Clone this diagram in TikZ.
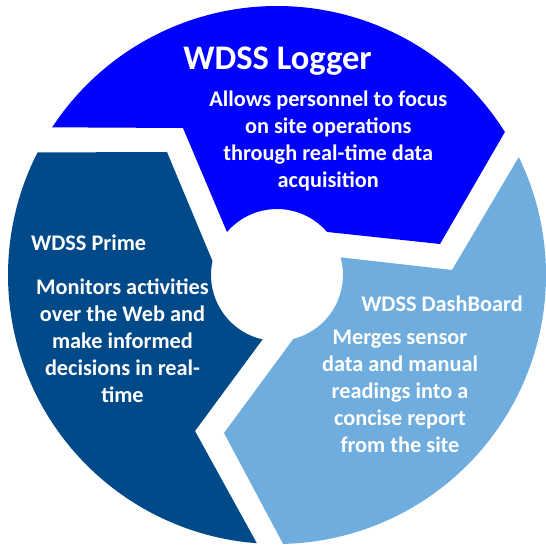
\documentclass[tikz,border=0pt]{standalone}
\usepackage{fontspec}
\setmainfont{Carlito}
\definecolor{loggerblue}{RGB}{0,0,255}
\definecolor{primeblue}{RGB}{0,74,138}
\definecolor{dashblue}{RGB}{111,173,222}
\begin{document}
\begin{tikzpicture}[x=1pt,y=1pt,
  segtext/.style={text=white,inner sep=0pt,font=\fontsize{22.3}{27}\selectfont\bfseries},
  bodytext/.style={segtext,align=center},
  bigtitle/.style={text=white,inner sep=0pt,font=\fontsize{34.5}{40}\selectfont\bfseries}]
\useasboundingbox (-277,-270) rectangle (269,275);
% WDSS Logger segment (top)
\fill[loggerblue] (146.7:269) arc[start angle=146.7,end angle=32.1,radius=269pt]
  -- (163,31) -- (40.7:66) arc[start angle=40.7,end angle=139.3,radius=66pt]
  -- (-94,147) -- cycle;
% WDSS DashBoard segment (right)
\fill[dashblue] (26.0:269) arc[start angle=26.0,end angle=-88.7,radius=269pt]
  -- (-53,-158) -- (-75.7:66) arc[start angle=-75.7,end angle=15.5,radius=66pt]
  -- (175,5) -- cycle;
% WDSS Prime segment (left)
\fill[primeblue] (265.7:269) arc[start angle=265.7,end angle=152.9,radius=269pt]
  -- (-110,123) -- (167.8:66) arc[start angle=167.8,end angle=257.4,radius=66pt]
  -- (-82,-156) -- cycle;
% texts (base anchor = baseline of the last line)
\node[bigtitle,anchor=base] (loggertitle) at (0.5,205.4) {WDSS Logger};
\node[bodytext,anchor=base] (loggerbody) at (51.3,87) {Allows personnel to focus\\on site operations\\through real-time data\\acquisition};
\node[segtext,anchor=base west] (primetitle) at (-246,24.5) {WDSS Prime};
\node[bodytext,anchor=base] (primebody) at (-154.5,-128) {Monitors activities\\over the Web and\\make informed\\decisions in real-\\time};
\node[segtext,anchor=base] (dashtitle) at (165,-36.5) {WDSS DashBoard};
\node[bodytext,anchor=base] (dashbody) at (123,-177.5) {Merges sensor\\data and manual\\readings into a\\concise report\\from the site};
\end{tikzpicture}
\end{document}
